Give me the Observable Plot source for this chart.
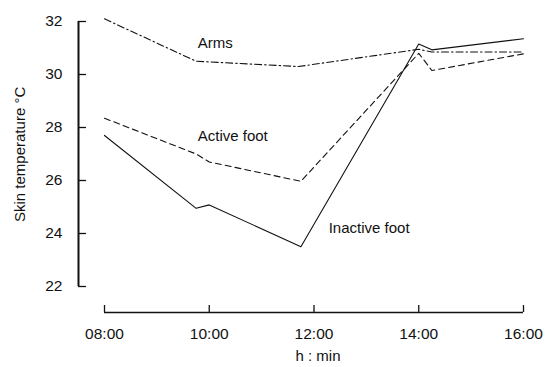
<!DOCTYPE html>
<html>
<head>
<meta charset="utf-8">
<script src="https://cdn.jsdelivr.net/npm/d3@7"></script>
<script src="https://cdn.jsdelivr.net/npm/@observablehq/plot@0.6"></script>
<style>
  html, body { margin: 0; padding: 0; background: #fff; }
  #chart svg { display: block; }
</style>
</head>
<body>
<div id="chart"></div>
<script>
// Skin temperature (°C) over the day, times in decimal hours
const armsTime = [8.0, 9.75, 11.7, 14.0, 14.25, 16.0];
const armsTemp = [32.1, 30.5, 30.3, 30.95, 30.85, 30.85];

const activeTime = [8.0, 9.75, 10.0, 11.75, 14.0, 14.25, 16.0];
const activeTemp = [28.35, 27.0, 26.7, 25.97, 30.8, 30.15, 30.78];

const inactiveTime = [8.0, 9.75, 10.0, 11.75, 14.0, 14.25, 16.0];
const inactiveTemp = [27.7, 24.95, 25.08, 23.5, 31.15, 30.93, 31.35];

const xTicks = [8, 10, 12, 14, 16];
const yTicks = [22, 24, 26, 28, 30, 32];

const seriesNames = ["Arms", "Active foot", "Inactive foot"];
const labelTime = [9.78, 9.78, 12.28];
const labelTemp = [31.17, 27.66, 24.19];

const toRows = (t, v) => t.map((x, i) => ({x, y: v[i]}));
const arms = toRows(armsTime, armsTemp);
const active = toRows(activeTime, activeTemp);
const inactive = toRows(inactiveTime, inactiveTemp);
const labels = seriesNames.map((name, i) => ({name, x: labelTime[i], y: labelTemp[i]}));

const hhmm = h => String(Math.floor(h)).padStart(2, "0") + ":" + String(Math.round((h % 1) * 60)).padStart(2, "0");

const font = "'Liberation Sans', Arial, Helvetica, sans-serif";

const chart = Plot.plot({
  width: 547,
  height: 367,
  marginLeft: 78,
  marginRight: 24,
  marginTop: 21,
  marginBottom: 55,
  style: {fontFamily: font, fontSize: "15px", color: "#111", background: "#fff"},
  x: {domain: [8, 16], range: [104, 523]},
  y: {domain: [22, 32], range: [286, 21]},
  marks: [
    // axis lines, set off from the data area
    Plot.ruleY([22], {x1: 8, x2: 16, dy: 26, stroke: "#111", strokeWidth: 1.6}),
    Plot.ruleX([8], {y1: 22, y2: 32, dx: -26, stroke: "#111", strokeWidth: 2}),
    // inward ticks
    Plot.ruleX(xTicks, {x: d => d, y1: 22, y2: 22, dy: 26, insetBottom: 7, stroke: "#111", strokeWidth: 1.3}),
    Plot.ruleY(yTicks, {y: d => d, x1: 8, x2: 8, dx: -26, insetRight: -8, stroke: "#111", strokeWidth: 1.3}),
    // tick labels
    Plot.axisX({ticks: xTicks, tickSize: 0, tickPadding: 15, tickFormat: hhmm, label: null, fontSize: 15.5}),
    Plot.axisY({ticks: yTicks, tickSize: 0, tickPadding: 16, label: null, fontSize: 15.5}),
    // axis titles
    Plot.text(["h : min"], {frameAnchor: "bottom", dx: 17, dy: 48, fontSize: 15, text: d => d}),
    Plot.text(["Skin temperature °C"], {frameAnchor: "left", dx: -58, dy: 55, rotate: -90, fontSize: 15, text: d => d}),
    // series
    Plot.line(arms, {x: "x", y: "y", stroke: "#111", strokeWidth: 1.1, strokeDasharray: "7,3,1.5,3"}),
    Plot.line(active, {x: "x", y: "y", stroke: "#111", strokeWidth: 1.1, strokeDasharray: "6,4"}),
    Plot.line(inactive, {x: "x", y: "y", stroke: "#111", strokeWidth: 1.1}),
    // series names
    Plot.text(labels, {x: "x", y: "y", text: "name", textAnchor: "start", fontSize: 15})
  ]
});

document.getElementById("chart").appendChild(chart);
</script>
</body>
</html>
